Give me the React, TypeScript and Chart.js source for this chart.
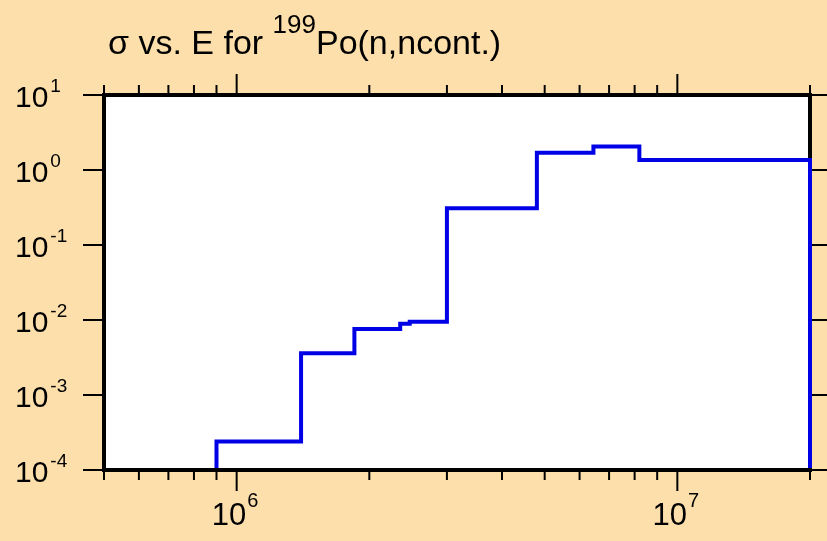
import React, { useEffect, useRef } from "react";
import { Chart, registerables } from "chart.js";

Chart.register(...registerables);

// ---- data ----
const energies = [9.0e5, 9.0e5, 1.4e6, 1.85e6, 2.35e6, 2.47e6, 3.0e6, 4.8e6, 6.45e6, 8.2e6, 2.0e7, 2.0e7];
const sigmas = [1e-4, 2.4e-4, 3.6e-3, 7.6e-3, 8.9e-3, 9.5e-3, 0.31, 1.7, 2.05, 1.36, 1.36, 1e-4];

const xMajorTicks = [1e6, 1e7];
const xMajorExponents = ["6", "7"];
const xMinorTicks = [5e5, 6e5, 7e5, 8e5, 9e5, 2e6, 3e6, 4e6, 5e6, 6e6, 7e6, 8e6, 9e6, 2e7];
const yTicks = [1e-4, 1e-3, 1e-2, 1e-1, 1e0, 1e1];
const yExponents = ["-4", "-3", "-2", "-1", "0", "1"];

const titleMain = "σ vs. E for ";
const titleSup = "199";
const titleRest = "Po(n,ncont.)";

const BG = "#fddfac";
const FONT = "'Liberation Sans', Arial, Helvetica, sans-serif";

const decorPlugin = {
  id: "decor",
  beforeDraw(chart: any) {
    const { ctx, width, height, chartArea: a } = chart;
    ctx.save();
    ctx.fillStyle = BG;
    ctx.fillRect(0, 0, width, height);
    ctx.fillStyle = "#ffffff";
    ctx.fillRect(a.left, a.top, a.right - a.left, a.bottom - a.top);
    ctx.restore();
  },
  beforeDatasetsDraw(chart: any) {
    const { ctx, chartArea: a } = chart;
    const xs = chart.scales.x;
    const ys = chart.scales.y;
    ctx.save();
    // ticks
    ctx.strokeStyle = "#000";
    ctx.lineWidth = 2;
    const line = (x1: number, y1: number, x2: number, y2: number) => {
      ctx.beginPath();
      ctx.moveTo(x1, y1);
      ctx.lineTo(x2, y2);
      ctx.stroke();
    };
    yTicks.forEach((v) => {
      const y = ys.getPixelForValue(v);
      line(a.left - 21, y, a.left, y);
      line(a.right, y, a.right + 21, y);
    });
    xMajorTicks.forEach((v) => {
      const x = xs.getPixelForValue(v);
      line(x, a.bottom, x, a.bottom + 21);
      line(x, a.top - 21, x, a.top);
    });
    xMinorTicks.forEach((v) => {
      const x = xs.getPixelForValue(v);
      line(x, a.bottom, x, a.bottom + 10);
      line(x, a.top - 10, x, a.top);
    });
    // frame
    ctx.lineWidth = 4;
    ctx.strokeRect(a.left, a.top, a.right - a.left, a.bottom - a.top);

    // labels
    ctx.fillStyle = "#000";
    ctx.textBaseline = "alphabetic";
    ctx.textAlign = "left";
    const big = `30px ${FONT}`;
    const small = `19px ${FONT}`;
    yTicks.forEach((v, i) => {
      const y = ys.getPixelForValue(v);
      ctx.font = big;
      ctx.fillText("10", 15, y + 11.5);
      const w = ctx.measureText("10").width;
      ctx.font = small;
      ctx.fillText(yExponents[i], 15 + w + 2, y - 3);
    });
    const bigX = `31px ${FONT}`;
    const smallX = `20px ${FONT}`;
    xMajorTicks.forEach((v, i) => {
      const x = xs.getPixelForValue(v);
      ctx.font = bigX;
      const w1 = ctx.measureText("10").width;
      ctx.font = smallX;
      const w2 = ctx.measureText(xMajorExponents[i]).width;
      const start = x - (w1 + w2) / 2 - 2;
      ctx.font = bigX;
      ctx.fillText("10", start, 525);
      ctx.font = smallX;
      ctx.fillText(xMajorExponents[i], start + w1 + 1, 507);
    });

    // title
    const tBig = `34px ${FONT}`;
    const tSmall = `26px ${FONT}`;
    ctx.font = tBig;
    let tx = 108;
    ctx.fillText(titleMain, tx, 54);
    tx += ctx.measureText(titleMain).width;
    ctx.font = tSmall;
    ctx.fillText(titleSup, tx, 33);
    tx += ctx.measureText(titleSup).width;
    ctx.font = tBig;
    ctx.fillText(titleRest, tx, 54);
    ctx.restore();
  },
};

export default function App() {
  const ref = useRef<HTMLCanvasElement | null>(null);
  useEffect(() => {
    document.body.style.margin = "0";
    document.body.style.background = BG;
    const canvas = ref.current!;
    const chart = new Chart(canvas, {
      type: "line",
      data: {
        datasets: [
          {
            data: energies.map((e, i) => ({ x: e, y: sigmas[i] })),
            borderColor: "#0000e6",
            borderWidth: 4,
            pointRadius: 0,
            stepped: true,
            fill: false,
            tension: 0,
            clip: { left: 6, right: 6, top: 6, bottom: -2 } as any,
          },
        ],
      },
      options: {
        animation: false,
        responsive: false,
        devicePixelRatio: 1,
        layout: { padding: { left: 104, right: 17, top: 95, bottom: 71 } },
        plugins: { legend: { display: false }, tooltip: { enabled: false }, title: { display: false } },
        scales: {
          x: { type: "logarithmic", min: 5e5, max: 2e7, display: false },
          y: { type: "logarithmic", min: 1e-4, max: 10, display: false },
        },
      },
      plugins: [decorPlugin],
    });
    return () => chart.destroy();
  }, []);
  return (
    <div style={{ position: "absolute", left: 0, top: 0, width: 827, height: 541 }}>
      <canvas ref={ref} width={827} height={541} style={{ display: "block", width: 827, height: 541 }} />
    </div>
  );
}
